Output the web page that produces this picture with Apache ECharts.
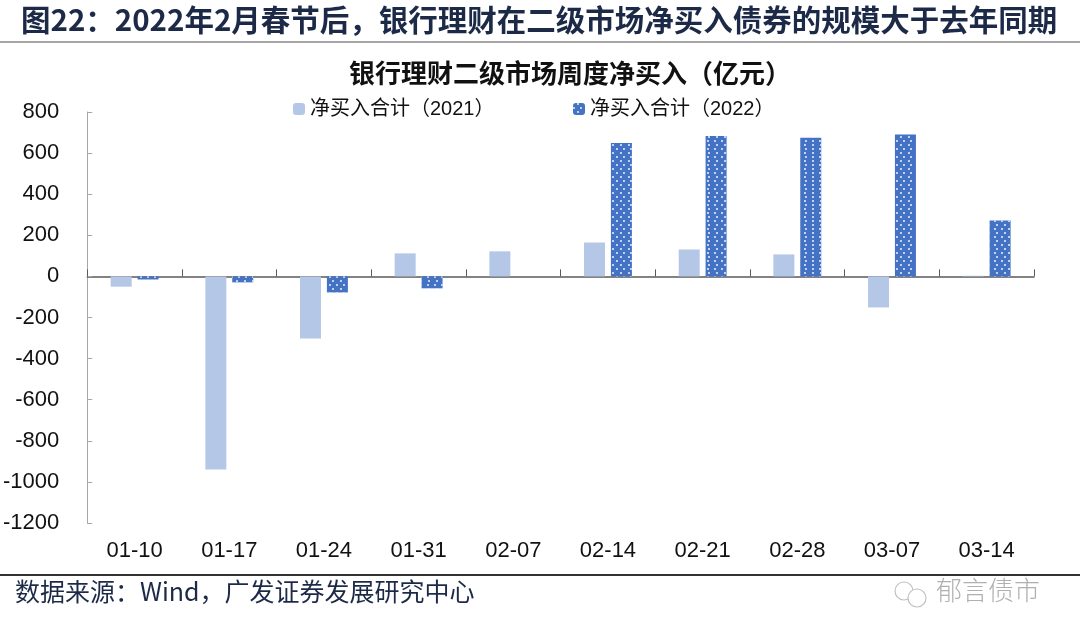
<!DOCTYPE html>
<html><head><meta charset="utf-8">
<script src="https://cdn.jsdelivr.net/npm/echarts@6/dist/echarts.min.js"></script>
<style>html,body{margin:0;padding:0;background:#fff}#c{width:1080px;height:640px}</style>
</head><body><div id="c"></div>
<script>
const categories = ['01-10','01-17','01-24','01-31','02-07','02-14','02-21','02-28','03-07','03-14'];
const net2021 = [-50, -940, -302, 112, 122, 165, 131, 107, -151, 3];
const net2022 = [-15, -29, -78, -58, 0, 649, 683, 675, 690, 272];
const yTicks = [800, 600, 400, 200, 0, -200, -400, -600, -800, -1000, -1200];
const seriesNames = ['净买入合计（2021）', '净买入合计（2022）'];

const CJK = '"Noto Sans CJK SC", sans-serif';
const NUM = '"Liberation Sans", "Noto Sans CJK SC", sans-serif';
const chart = echarts.init(document.getElementById('c'), null, {renderer: 'canvas'});
const dotDecal = {
  symbol: 'circle', symbolSize: 0.9, color: '#ffffff',
  dashArrayX: [[2, 5], [0, 3.5, 2, 1.5]], dashArrayY: [2, 1.5], rotation: 0
};
chart.setOption({
  animation: false,
  backgroundColor: '#fff',
  title: [{
    text: '图22：2022年2月春节后，银行理财在二级市场净买入债券的规模大于去年同期',
    left: 16, top: 0,
    textStyle: {fontFamily: CJK, fontSize: 29.5, fontWeight: 'bold', color: '#1c2a48'}
  }, {
    text: '银行理财二级市场周度净买入（亿元）',
    left: 344, top: 55,
    textStyle: {fontFamily: CJK, fontSize: 26, fontWeight: 'bold', color: '#111'}
  }],
  legend: [{
    data: [seriesNames[0]], left: 288, top: 94, itemWidth: 12, itemHeight: 12,
    textStyle: {fontFamily: NUM, fontSize: 20, color: '#111'}
  }, {
    data: [seriesNames[1]], left: 568, top: 94, itemWidth: 12, itemHeight: 12,
    textStyle: {fontFamily: NUM, fontSize: 20, color: '#111'}
  }],
  grid: {left: 86, right: 46, top: 112, bottom: 117},
  xAxis: [{
    type: 'category', data: categories, position: 'bottom',
    axisLine: {show: false, onZero: false}, axisTick: {show: false},
    axisLabel: {fontFamily: NUM, fontSize: 22, color: '#111', margin: 17}
  }, {
    type: 'category', data: categories, position: 'top',
    axisLine: {show: true, onZero: true, lineStyle: {color: '#595959', width: 1.5}},
    axisTick: {show: true, inside: false, length: 7, lineStyle: {color: '#595959'}},
    axisLabel: {show: false}
  }],
  yAxis: {
    type: 'value', min: -1200, max: 800, interval: 200,
    axisLine: {show: true, lineStyle: {color: '#a6a6a6'}},
    axisTick: {show: true, inside: true, length: 5, lineStyle: {color: '#a6a6a6'}},
    splitLine: {show: false},
    axisLabel: {fontFamily: NUM, fontSize: 22, color: '#111', margin: 28,
      formatter: v => yTicks.includes(v) ? String(v) : ''}
  },
  series: [{
    name: seriesNames[0], type: 'bar', data: net2021, xAxisIndex: 0,
    barWidth: 21, barGap: '28%',
    itemStyle: {color: '#b4c7e7'}
  }, {
    name: seriesNames[1], type: 'bar', data: net2022, xAxisIndex: 0,
    barWidth: 21,
    itemStyle: {color: '#4472c4', decal: dotDecal}
  }],
  graphic: [
    {type: 'rect', shape: {x: 0, y: 41, width: 1080, height: 2}, style: {fill: '#a6a6a6'}},
    {type: 'rect', shape: {x: 0, y: 574, width: 1080, height: 2}, style: {fill: '#333'}},
    {type: 'text', left: 15, top: 579, style: {text: '数据来源：Wind，广发证券发展研究中心', font: '25px "Noto Sans CJK SC"', fill: '#1c2a48'}},
    {type: 'circle', shape: {cx: 904, cy: 591, r: 9}, style: {fill: 'none', stroke: '#c0c0c0', lineWidth: 1.2}},
    {type: 'circle', shape: {cx: 917, cy: 598, r: 9}, style: {fill: '#fff', stroke: '#c0c0c0', lineWidth: 1.2}},
    {type: 'text', left: 936, top: 577, style: {text: '郁言债市', font: '300 26px "Noto Sans CJK SC"', fill: '#b0b0b0'}}
  ]
});
</script></body></html>
